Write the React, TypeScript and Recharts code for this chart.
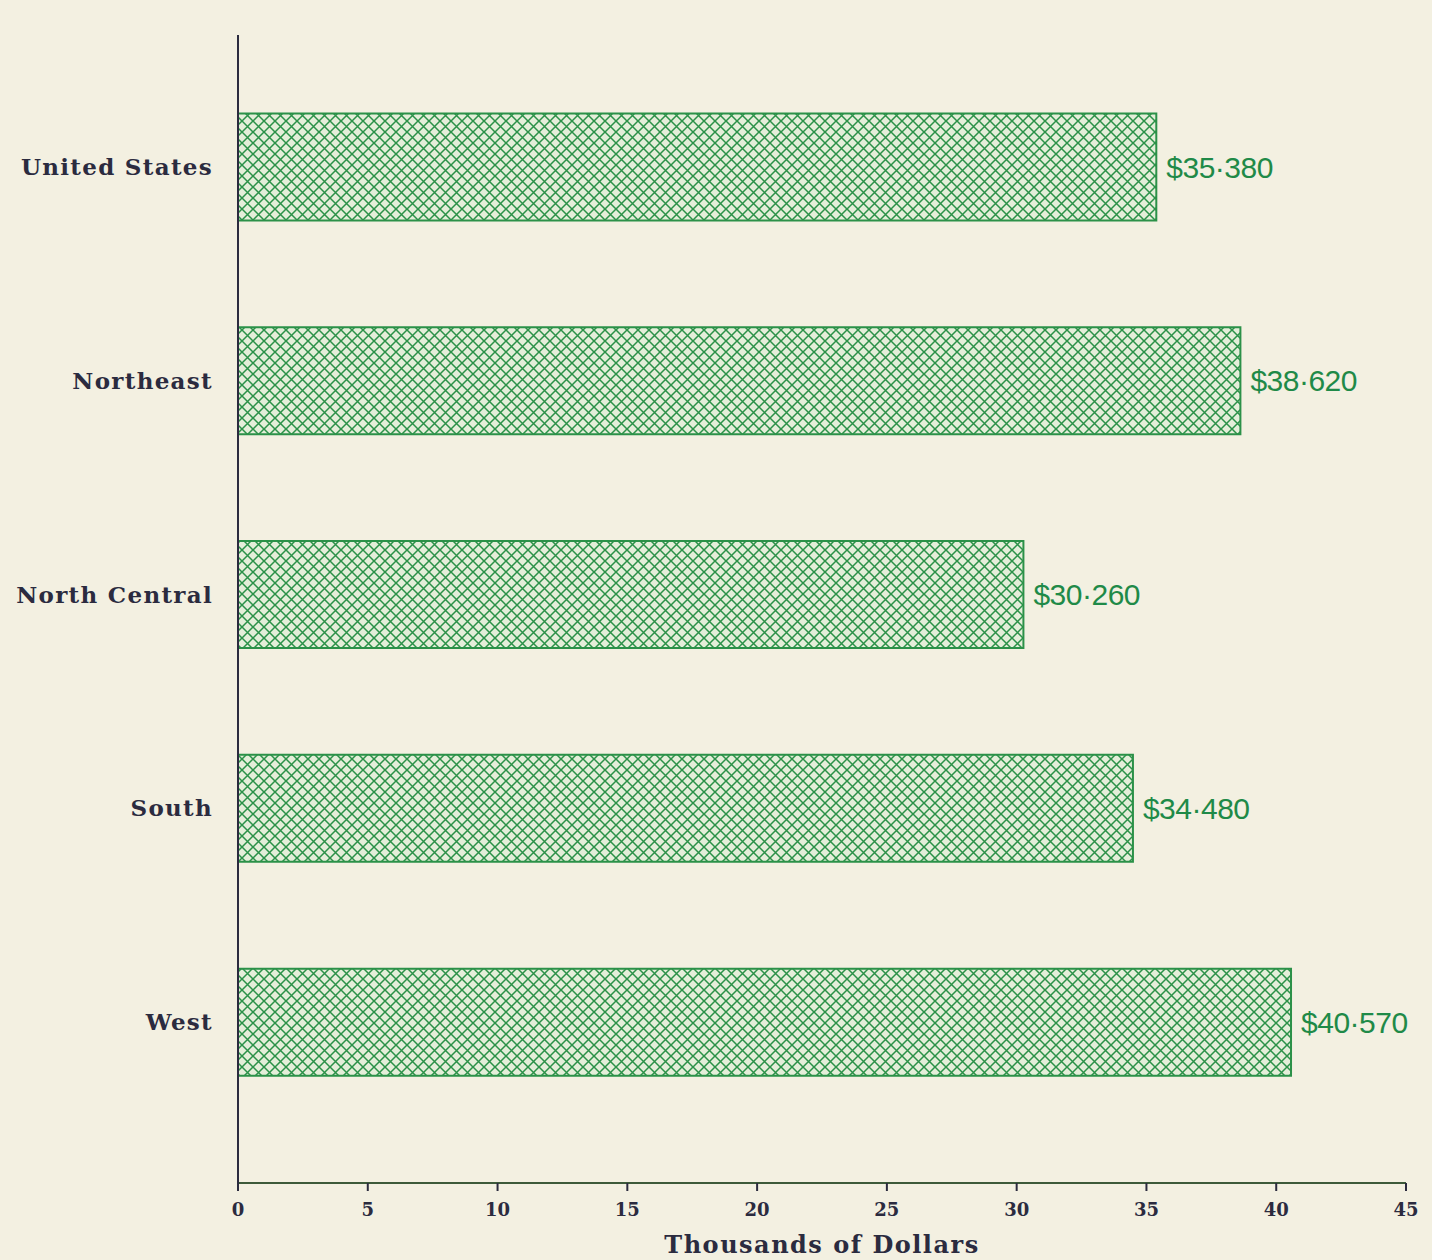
import React from 'react';
import { BarChart, Bar, XAxis, YAxis, LabelList } from 'recharts';

const regions = ['United States', 'Northeast', 'North Central', 'South', 'West'];
const incomes = [35.38, 38.62, 30.26, 34.48, 40.57];
const xTicks = [0, 5, 10, 15, 20, 25, 30, 35, 40, 45];

const data = regions.map((region, i) => ({ region, income: incomes[i] }));

const BG = '#f3f0e1';
const GREEN = '#2b9148';
const INK = '#2b2b3f';

// 35.38 -> "$35·380", as printed on the original
const formatDollars = (v: any) => '$' + Number(v).toFixed(3).replace('.', '\u00b7');

const App: React.FC = () => {
  return (
    <div style={{ position: 'absolute', left: 0, top: 0, width: 1432, height: 1260, background: BG }}>
      <svg width={0} height={0} style={{ position: 'absolute' }}>
        <defs>
          <pattern id="hatch" width="11" height="11" patternUnits="userSpaceOnUse">
            <rect width="11" height="11" fill="#e4eed9" />
            <path d="M-1,-1 L12,12 M-1,12 L12,-1" stroke={GREEN} strokeWidth="1.5" />
          </pattern>
        </defs>
      </svg>
      <BarChart
        width={1432}
        height={1260}
        data={data}
        layout="vertical"
        margin={{ top: 35, right: 26, left: 0, bottom: 0 }}
        barCategoryGap="25%"
      >
        <XAxis
          type="number"
          domain={[0, 45]}
          ticks={xTicks}
          height={77}
          axisLine={{ stroke: '#3d5a3a', strokeWidth: 2 }}
          tickLine={{ stroke: INK, strokeWidth: 2 }}
          tickSize={8}
          tickMargin={12}
          tick={{ fill: INK, fontFamily: 'DejaVu Serif', fontWeight: 'bold', fontSize: 18 }}
          label={{
            value: 'Thousands of Dollars',
            position: 'insideBottom',
            offset: 7,
            fill: INK,
            fontFamily: 'DejaVu Serif',
            fontWeight: 'bold',
            fontSize: 24,
            letterSpacing: 1.5,
          }}
        />
        <YAxis
          type="category"
          dataKey="region"
          width={238}
          padding={{ top: 25, bottom: 54 }}
          axisLine={{ stroke: INK, strokeWidth: 2 }}
          tickLine={false}
          tickSize={0}
          tickMargin={25}
          tick={{ fill: INK, fontFamily: 'DejaVu Serif', fontWeight: 'bold', fontSize: 23, letterSpacing: 1.3 }}
        />
        <Bar dataKey="income" fill="url(#hatch)" stroke={GREEN} strokeWidth={2} isAnimationActive={false}>
          <LabelList
            dataKey="income"
            position="right"
            offset={10}
            formatter={formatDollars}
            style={{ fill: '#1f8a48', fontFamily: 'Liberation Sans', fontSize: 30, letterSpacing: -0.5 }}
          />
        </Bar>
      </BarChart>
    </div>
  );
};

export default App;
